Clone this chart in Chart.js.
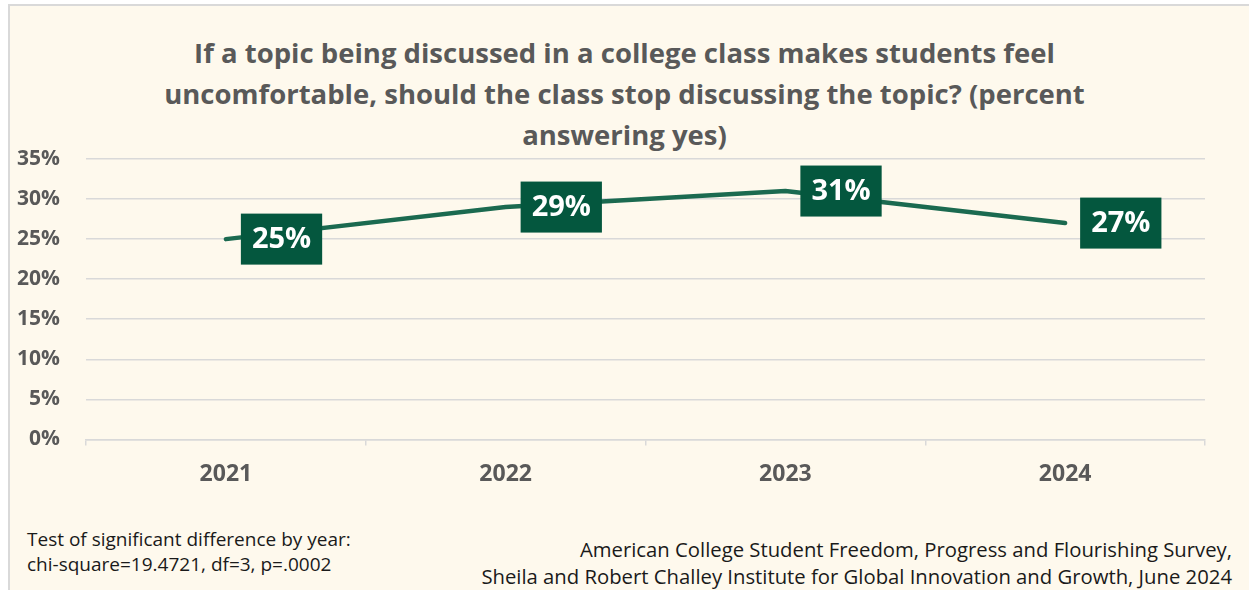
<!DOCTYPE html>
<html>
<head>
<meta charset="utf-8">
<script src="https://cdn.jsdelivr.net/npm/chart.js@4"></script>
<style>
    html, body { margin: 0; padding: 0; background: #ffffff; overflow: hidden; }
    #panel {
        position: absolute; left: 8px; top: 4px; width: 1260px; height: 600px;
        background: #fef9ed; border-left: 2px solid #d9d9d9; border-top: 2px solid #d9d9d9;
        font-family: "Open Sans", sans-serif;
    }
    #chartTitle {
        position: absolute; left: 0; top: 26px; width: 1229px; text-align: center;
        color: #595959; font-size: 27.5px; font-weight: bold; line-height: 41px;
    }
    #chartBox { position: absolute; left: 0; top: 0; width: 1239px; height: 500px; }
    .note { position: absolute; color: #1a1a1a; white-space: nowrap; }
    #testNote { left: 17px; top: 521px; font-size: 19px; line-height: 25px; }
    #sourceNote { right: 38px; top: 530px; font-size: 20.3px; line-height: 27px; text-align: right; }
</style>
</head>
<body>
<div id="panel">
    <div id="chartTitle"></div>
    <div id="chartBox"><canvas id="yesChart"></canvas></div>
    <div class="note" id="testNote">Test of significant difference by year:<br>chi-square=19.4721, df=3, p=.0002</div>
    <div class="note" id="sourceNote">American College Student Freedom, Progress and Flourishing Survey,<br>Sheila and Robert Challey Institute for Global Innovation and Growth, June 2024</div>
</div>
<script>
// survey years and share answering "yes" (%)
const years = ['2021', '2022', '2023', '2024'];
const yesPct = [25, 29, 31, 27];
const yTicks = [0, 5, 10, 15, 20, 25, 30, 35];
const titleLines = [
    'If a topic being discussed in a college class makes students feel',
    'uncomfortable, should the class stop discussing the topic? (percent',
    'answering yes)'
];

const GREEN = '#04573e';
const GREY = '#595959';
const GRID = '#d9d9d9';

// title sits above the canvas so it centres on the whole panel
document.getElementById('chartTitle').innerHTML = titleLines.join('<br>');

// boxed value labels to the right of each point
const boxLabels = {
    id: 'boxLabels',
    afterDatasetsDraw(chart) {
        const ctx = chart.ctx;
        const meta = chart.getDatasetMeta(0);
        ctx.save();
        ctx.font = 'bold 29px "Open Sans"';
        ctx.textAlign = 'center';
        ctx.textBaseline = 'middle';
        meta.data.forEach((pt, i) => {
            const text = Math.round(yesPct[i]) + '%';
            const w = ctx.measureText(text).width + 22;
            const h = 51;
            const left = pt.x + 15;
            ctx.fillStyle = GREEN;
            ctx.fillRect(left, pt.y - h / 2, w, h);
            ctx.fillStyle = '#ffffff';
            ctx.fillText(text, left + w / 2, pt.y + 1);
        });
        ctx.restore();
    }
};

new Chart('yesChart', {
    type: 'line',
    data: {
        labels: years,
        datasets: [{
            data: yesPct,
            borderColor: '#1b6a50',
            borderWidth: 4.5,
            borderCapStyle: 'round',
            borderJoinStyle: 'round',
            pointRadius: 0,
            tension: 0
        }]
    },
    options: {
        responsive: true,
        maintainAspectRatio: false,
        animation: false,
        layout: { padding: { left: 0, right: 44, top: 153, bottom: 3 } },
        plugins: {
            legend: { display: false },
            tooltip: { enabled: false }
        },
        scales: {
            x: {
                offset: true,
                border: { display: true, color: GRID, width: 1.5 },
                grid: { drawOnChartArea: false, drawTicks: true, tickLength: 6, offset: true, color: GRID, lineWidth: 1.5 },
                ticks: { color: GREY, padding: 15, font: { family: 'Open Sans', size: 23, weight: 'bold' } }
            },
            y: {
                min: 0,
                max: 35,
                afterFit(scale) { scale.width = 76; },
                afterBuildTicks(scale) { scale.ticks = yTicks.map(v => ({ value: v })); },
                border: { display: false },
                grid: { color: GRID, lineWidth: 1.5, drawTicks: false },
                ticks: {
                    color: GREY,
                    padding: 26,
                    font: { family: 'Open Sans', size: 21, weight: 'bold' },
                    callback: v => v + '%'
                }
            }
        }
    },
    plugins: [boxLabels]
});
</script>
</body>
</html>
